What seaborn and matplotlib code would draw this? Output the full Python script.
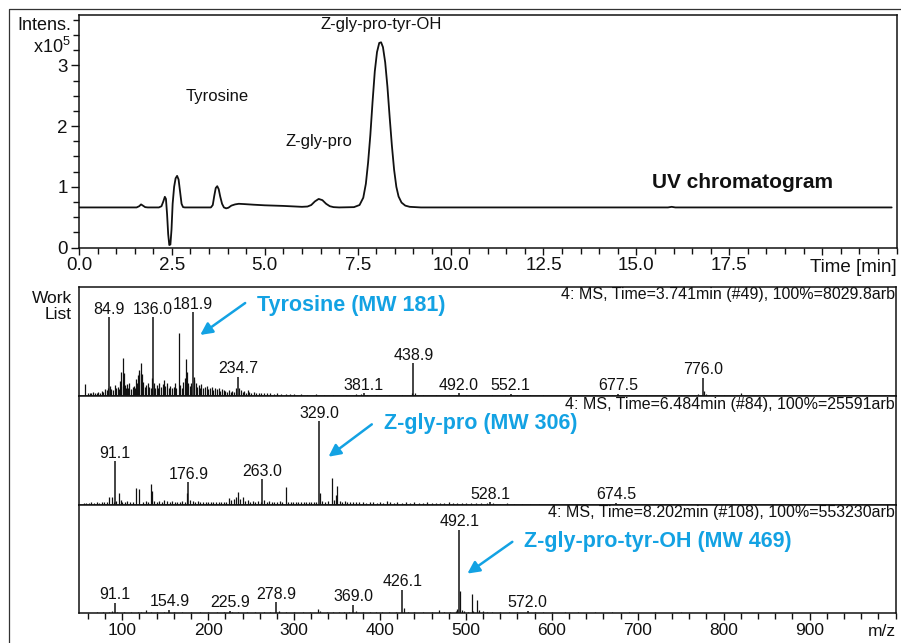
import numpy as np
import pandas as pd
import matplotlib
matplotlib.use("Agg")
import matplotlib.pyplot as plt
import seaborn as sns
from matplotlib.lines import Line2D
from matplotlib.ticker import MultipleLocator

# ---------------- UV chromatogram (time in min, intensity x1e5) ----------------
uv_time = [0.0, 1.55, 1.62, 1.67, 1.72, 1.78, 1.85, 2.15, 2.22, 2.27,
           2.31, 2.34, 2.37, 2.40, 2.43, 2.46, 2.49, 2.52, 2.56, 2.60,
           2.64, 2.68, 2.72, 2.76, 2.80, 2.85, 3.55, 3.60, 3.64, 3.68,
           3.72, 3.76, 3.80, 3.85, 3.90, 3.96, 4.02, 4.10, 4.20, 4.30,
           4.45, 4.70, 5.00, 5.50, 6.00, 6.15, 6.25, 6.35, 6.45, 6.55,
           6.65, 6.75, 6.85, 7.00, 7.40, 7.55, 7.65, 7.72, 7.78, 7.84,
           7.90, 7.96, 8.02, 8.08, 8.13, 8.18, 8.24, 8.30, 8.36, 8.42,
           8.48, 8.54, 8.60, 8.68, 8.78, 8.90, 9.20, 15.85, 15.95, 16.05,
           21.87]
uv_intens = [0.66, 0.66, 0.68, 0.71, 0.69, 0.665, 0.66, 0.66, 0.68, 0.76,
             0.835, 0.80, 0.55, 0.22, 0.04, 0.05, 0.30, 0.72, 1.00, 1.14,
             1.18, 1.12, 0.92, 0.72, 0.665, 0.66, 0.66, 0.70, 0.85, 0.98,
             1.01, 0.96, 0.84, 0.72, 0.66, 0.645, 0.655, 0.69, 0.71, 0.72,
             0.715, 0.705, 0.695, 0.685, 0.67, 0.675, 0.70, 0.76, 0.80, 0.78,
             0.72, 0.68, 0.665, 0.66, 0.665, 0.70, 0.82, 1.05, 1.40, 1.85,
             2.40, 2.90, 3.22, 3.37, 3.38, 3.30, 3.05, 2.65, 2.15, 1.68,
             1.28, 1.00, 0.84, 0.74, 0.69, 0.67, 0.66, 0.66, 0.67, 0.66,
             0.66]
uv_xticks = [0.0, 2.5, 5.0, 7.5, 10.0, 12.5, 15.0, 17.5, 20.0]
uv_xtick_labels = ["0.0", "2.5", "5.0", "7.5", "10.0", "12.5", "15.0", "17.5", ""]
uv_yticks = [0, 1, 2, 3]
uv_peak_names = ["Tyrosine", "Z-gly-pro", "Z-gly-pro-tyr-OH"]

# ---------------- Mass spectra (m/z, relative intensity %) ----------------
ms_titles = ["4: MS, Time=3.741min (#49), 100%=8029.8arb",
             "4: MS, Time=6.484min (#84), 100%=25591arb",
             "4: MS, Time=8.202min (#108), 100%=553230arb"]
ms_compounds = ["Tyrosine (MW 181)", "Z-gly-pro (MW 306)",
                "Z-gly-pro-tyr-OH (MW 469)"]

# labelled peaks
ms1_label_mz = [84.9, 136.0, 181.9, 234.7, 381.1, 438.9, 492.0, 552.1, 677.5, 776.0]
ms1_label_rel = [94, 94, 100, 23, 3, 39, 3, 2.5, 2.5, 22]
ms2_label_mz = [91.1, 176.9, 263.0, 329.0, 528.1, 674.5]
ms2_label_rel = [52, 27, 31, 100, 3, 2.5]
ms3_label_mz = [91.1, 154.9, 225.9, 278.9, 369.0, 426.1, 492.1, 572.0]
ms3_label_rel = [12.5, 4, 2.5, 13, 10, 28, 100, 2.5]

# unlabelled peaks
ms1_mz = [57, 60, 62, 64, 66, 68, 70, 72, 74, 76,
          78, 80, 82, 83, 86, 87, 89, 91, 93, 95,
          96, 97, 98, 99, 100.4, 101.5, 103, 104, 105, 107,
          108, 110, 112, 114, 115, 116, 117, 118, 119, 120,
          121.5, 122.5, 124, 126, 128, 130, 131, 133, 134, 137,
          138, 140, 142, 143, 145, 147, 149, 150, 152, 154,
          156, 158, 160, 161, 163, 165.5, 167, 169, 171, 172.5,
          174, 175.5, 177, 179, 180, 183, 184, 185.5, 187, 189,
          190, 192, 194, 196, 198, 200, 202, 204, 206, 208,
          210, 212, 214, 216, 218, 220, 222, 224, 226, 228,
          230, 232, 236, 238, 240, 242, 244, 246, 248, 250,
          253, 256, 259, 262, 265, 268, 272, 276, 280, 285,
          290, 295, 300, 308, 315, 325, 335, 345, 360, 372,
          378, 385, 395, 410, 425, 437, 441, 450, 465, 480,
          500, 515, 530, 545, 560, 575, 590, 610, 630, 650,
          670, 690, 710, 730, 750, 770, 777.5, 780, 790, 800,
          820, 840, 870, 900, 940, 970]
ms1_rel = [14, 3, 4, 3, 5, 4, 3, 5, 4, 6,
           5, 8, 7, 10, 12, 8, 7, 13, 9, 11,
           8, 18, 12, 29, 45, 28, 13, 9, 14, 10,
           16, 8, 11, 12, 9, 20, 15, 25, 31, 27,
           39, 26, 17, 11, 13, 16, 11, 10, 21, 15,
           10, 13, 9, 16, 11, 14, 19, 12, 15, 10,
           12, 9, 11, 15, 10, 75, 13, 10, 17, 21,
           44, 29, 15, 12, 16, 23, 19, 16, 11, 13,
           10, 14, 9, 11, 12, 8, 10, 11, 7, 9,
           8, 10, 6, 8, 7, 6, 5, 7, 5, 6,
           5, 9, 10, 7, 5, 6, 4, 7, 5, 4,
           5, 4, 3, 4, 3, 3, 3, 2.5, 3, 2,
           2.5, 2, 2, 2, 1.5, 2, 1.5, 1.5, 1.5, 2,
           2, 1.5, 1.5, 1.5, 1.5, 3, 4, 1.5, 1.5, 1.5,
           1.5, 1.5, 1.5, 1.5, 1.5, 1.5, 1.5, 1.5, 1.5, 1.5,
           1.5, 1.5, 1.5, 1.5, 1.5, 2, 6, 2, 1.5, 1.5,
           4, 1, 1, 1, 1, 1]

ms2_mz = [55, 58, 61, 64, 67, 70, 73, 76, 79, 82,
          85, 88, 90, 93, 96, 98, 100, 103, 106, 109,
          112, 116, 120, 124, 127, 130, 133, 134.5, 137, 140,
          143, 146, 149, 152, 155, 158, 161, 164, 167, 170,
          173, 175.5, 179, 182, 185, 188, 191, 194, 197, 200,
          203, 206, 209, 212, 215, 218, 221, 224, 227, 230,
          232, 234.5, 237, 240, 243, 246, 249, 252, 255, 258,
          261, 265, 268, 271, 274, 277, 280, 283, 286, 290,
          293, 296, 299, 302, 305, 308, 311, 314, 317, 320,
          323, 326, 330.2, 333, 336, 340, 343.8, 346, 348.5, 350.4,
          353, 356, 359, 362, 365, 368, 372, 376, 380, 384,
          388, 392, 396, 400, 404, 408, 412, 416, 420, 425,
          430, 435, 440, 445, 450, 455, 460, 465, 470, 475,
          480, 485, 490, 495, 500, 506, 512, 518, 524, 532,
          540, 548, 556, 565, 575, 585, 600, 620, 640, 660,
          680]
ms2_rel = [2, 2.5, 2, 3, 2.5, 3, 2.5, 3, 4, 3.5,
           9, 10, 4, 5, 14, 6, 4, 3, 5, 4,
           3, 20, 19, 4, 5, 4, 25, 17, 5, 4,
           5, 4, 6, 5, 4, 5, 4, 3.5, 4, 5,
           4, 14, 6, 5, 4, 5, 4, 3, 4, 3,
           3.5, 4, 3, 4, 3.5, 3, 4, 8, 6, 7,
           10, 15, 7, 9, 5, 6, 4, 5, 3, 5,
           4, 6, 4, 5, 3, 4, 3, 5, 4, 21,
           4, 3, 4, 3, 4, 3, 3.5, 4, 3, 4,
           3, 4, 14, 5, 4, 5, 32, 6, 12, 23,
           5, 4, 5, 3, 4, 3, 4, 3, 4, 2.5,
           3, 4, 2.5, 3, 2.5, 5, 3, 2.5, 3, 2.5,
           3, 2, 4, 2.5, 2, 3, 2.5, 2, 2.5, 2,
           3, 2, 2.5, 2, 2, 2, 2.5, 2, 2.5, 2,
           1.5, 2, 1.5, 1.5, 1.5, 1.5, 1.5, 1, 1, 1,
           1]

ms3_mz = [70, 78, 84, 88, 94, 102, 110, 118, 122, 127.5,
          133, 140, 148, 160, 170, 180, 190, 200, 210, 218,
          228, 235, 245, 255, 265, 272, 282, 290, 300, 310,
          318, 328, 330, 338, 345, 352, 358, 364, 372, 380,
          388, 395, 402, 410, 418, 427.5, 432, 440, 450, 460,
          468.6, 475, 482, 488, 490, 493.1, 495, 498, 502, 506.6,
          508, 513.2, 515, 520, 525, 530, 540, 550, 560, 580,
          590, 600, 615, 630, 650, 670, 690, 720, 750]
ms3_rel = [1, 1.5, 1, 2, 1, 1, 1, 1, 1.5, 4,
           1, 1, 1, 1, 1, 1, 1, 1, 1, 1,
           1.5, 1, 1, 1, 1, 1.5, 2, 1, 1, 1,
           1, 5, 3, 1, 1, 1.5, 1, 1.5, 2, 1,
           1, 1, 1, 1.5, 1, 6, 1.5, 1, 1, 1,
           4, 1, 1.5, 2, 5, 27, 4, 2, 1.5, 23,
           3, 16, 4, 2, 1.5, 1.5, 1, 1, 1, 1,
           1, 1, 0.8, 0.8, 0.8, 0.8, 0.8, 0.8, 0.8]

ms_xticks = [100, 200, 300, 400, 500, 600, 700, 800, 900]

# ---------------- styling ----------------
sns.set_theme(style="ticks")
plt.rcParams["font.family"] = ["Liberation Sans", "DejaVu Sans"]
plt.rcParams["mathtext.fontset"] = "custom"
plt.rcParams["mathtext.rm"] = "Liberation Sans"
plt.rcParams["axes.linewidth"] = 1.1
plt.rcParams["axes.edgecolor"] = "black"

W, H = 901, 643
fig = plt.figure(figsize=(W / 100, H / 100), dpi=100)


def px_axes(left, top, right, bottom):
    return fig.add_axes([left / W, 1 - bottom / H, (right - left) / W, (bottom - top) / H])


BLUE = "#13a2e3"
INK = "#111111"

# ---------------- chromatogram ----------------
ax = px_axes(79, 15, 896.5, 247.5)
uv = pd.DataFrame({"time": uv_time, "intens": uv_intens})
sns.lineplot(data=uv, x="time", y="intens", ax=ax, color=INK, lw=1.3,
             estimator=None, sort=False)
ax.set_xlim(0, 22)
ax.set_ylim(0, 3.83)
ax.set_xlabel("")
ax.set_ylabel("")
ax.set_xticks(uv_xticks)
ax.set_xticklabels(uv_xtick_labels)
ax.xaxis.set_minor_locator(MultipleLocator(0.5))
ax.set_yticks(uv_yticks)
ax.yaxis.set_minor_locator(MultipleLocator(0.25))
ax.tick_params(axis="both", which="major", direction="out", length=5, width=1,
               labelsize=13.5, color=INK, labelcolor=INK)
ax.tick_params(axis="x", which="major", pad=1.5)
ax.tick_params(axis="y", which="major", pad=2, length=6)
ax.tick_params(axis="both", which="minor", direction="out", length=4, width=1, color=INK)
for s in ax.spines.values():
    s.set_color(INK)
    s.set_linewidth(1.1)

ax.text(1.0, -0.087, "Time [min]", transform=ax.transAxes, ha="right", va="center",
        fontsize=13.5, color=INK)
ax.text(3.72, 2.48, uv_peak_names[0], ha="center", va="center", fontsize=12, color=INK)
ax.text(6.46, 1.74, uv_peak_names[1], ha="center", va="center", fontsize=12, color=INK)
ax.text(8.13, 3.67, uv_peak_names[2], ha="center", va="center", fontsize=12, color=INK)
ax.text(742, H - 183, "UV chromatogram", transform=None, ha="center", va="center",
        fontsize=15, fontweight="bold", color=INK)

fig.text(71 / W, 1 - 30 / H, "Intens.", ha="right", va="baseline", fontsize=13, color=INK)
fig.text(71 / W, 1 - 53 / H, r"x10$^5$", ha="right", va="baseline", fontsize=13, color=INK)

# ---------------- mass spectra ----------------
rows = [(287, 396), (396, 505), (505, 613)]
label_sets = [(ms1_label_mz, ms1_label_rel), (ms2_label_mz, ms2_label_rel),
              (ms3_label_mz, ms3_label_rel)]
grass_sets = [(ms1_mz, ms1_rel), (ms2_mz, ms2_rel), (ms3_mz, ms3_rel)]
arrows = [((0.204, 0.853), (0.149, 0.56)),
          ((0.359, 0.740), (0.306, 0.443)),
          ((0.531, 0.659), (0.476, 0.365))]
comp_pos = [(0.218, 0.826), (0.374, 0.749), (0.545, 0.659)]

for i, (top, bottom) in enumerate(rows):
    a = px_axes(78.5, top, 895.5, bottom)
    a.set_xlim(49, 1000)
    a.set_ylim(0, 130)
    gm, gr = grass_sets[i]
    a.vlines(gm, 0, gr, color=INK, lw=0.9)
    lm, lr = label_sets[i]
    a.vlines(lm, 0, lr, color=INK, lw=1.1)
    for m, r in zip(lm, lr):
        a.annotate(f"{m:.1f}", (m, r), xytext=(0, 2.5), textcoords="offset points",
                   ha="center", va="baseline", fontsize=11.5, color=INK)
    a.text(0.999, 1 - 8 / (bottom - top), ms_titles[i], transform=a.transAxes,
           ha="right", va="center", fontsize=11.5, color=INK)
    (tx, ty), (hx, hy) = arrows[i]
    a.annotate("", xy=(hx, hy), xytext=(tx, ty), xycoords="axes fraction",
               textcoords="axes fraction",
               arrowprops=dict(arrowstyle="-|>,head_length=0.6,head_width=0.3",
                               color=BLUE, lw=1.8, shrinkA=0, shrinkB=0))
    cx, cy = comp_pos[i]
    a.text(cx, cy, ms_compounds[i], transform=a.transAxes, ha="left", va="center",
           fontsize=15.5, fontweight="bold", color=BLUE)
    a.set_yticks([])
    for s in a.spines.values():
        s.set_color(INK)
        s.set_linewidth(1.1)
    if i < 2:
        a.set_xticks([])
    else:
        a.set_xticks(ms_xticks)
        a.set_xticklabels([str(v) for v in ms_xticks])
        a.xaxis.set_minor_locator(MultipleLocator(20))
        a.tick_params(axis="x", which="major", direction="out", length=5, width=1,
                      labelsize=12.5, pad=2, color=INK, labelcolor=INK)
        a.tick_params(axis="x", which="minor", direction="out", length=4, width=1,
                      color=INK)
        a.text(1.0, -0.17, "m/z", transform=a.transAxes, ha="right", va="center",
               fontsize=12.5, color=INK)
    if i == 0:
        fig.text(72 / W, 1 - 303 / H, "Work", ha="right", va="baseline", fontsize=12.5,
                 color=INK)
        fig.text(72 / W, 1 - 319 / H, "List", ha="right", va="baseline", fontsize=12.5,
                 color=INK)

# outer frame lines
fig.add_artist(Line2D([9 / W, 9 / W, 1], [0, 1 - 9 / H, 1 - 9 / H],
                      transform=fig.transFigure, color="#333333", lw=0.9))

fig.savefig("out.png", dpi=100)
